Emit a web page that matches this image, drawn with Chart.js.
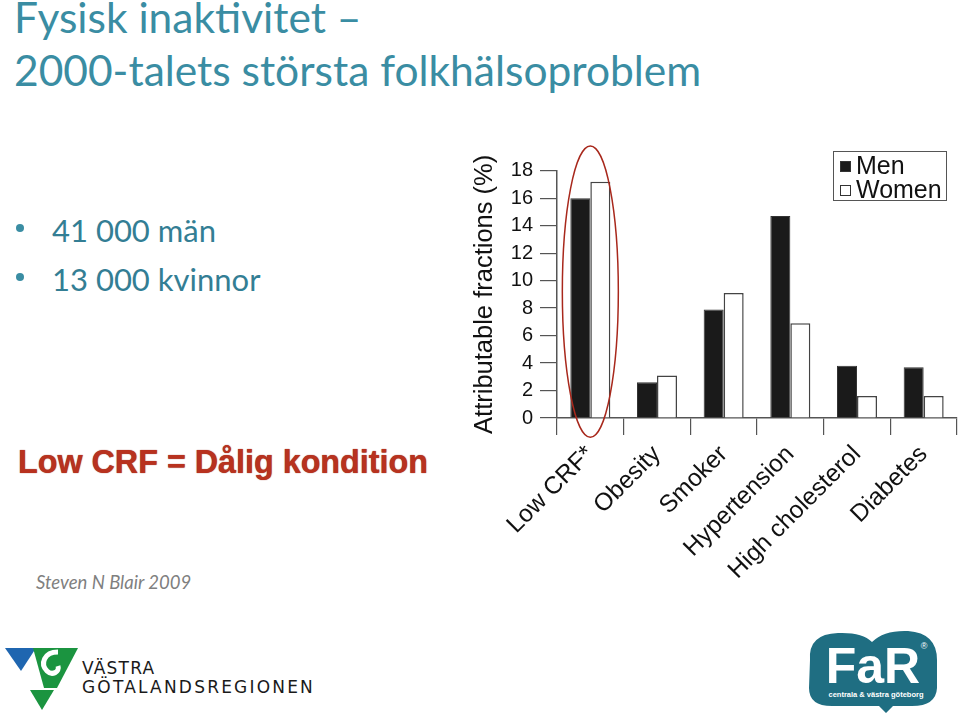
<!DOCTYPE html>
<html lang="sv">
<head>
<meta charset="utf-8">
<title>Fysisk inaktivitet</title>
<script src="https://cdn.jsdelivr.net/npm/chart.js@4.4.1/dist/chart.umd.min.js"></script>
<style>
  html, body { margin: 0; padding: 0; background: #fff; }
  body { width: 960px; height: 716px; position: relative; overflow: hidden; font-family: Lato, "Open Sans", sans-serif; }
  .abs { position: absolute; white-space: nowrap; line-height: 1; }
  .title { color: #3a8da3; font-size: 42.5px; left: 14px; }
  .bullet { color: #337e94; font-size: 31px; left: 52px; }
  .dot { position: absolute; width: 8px; height: 8px; border-radius: 50%; background: #3a8da3; left: 16px; }
  .crf { left: 18px; top: 446px; font-family: "Liberation Sans", Arial, sans-serif; font-weight: bold; font-size: 32.3px; color: #b8321f; text-shadow: 0 0 1px #8a2414; }
  .ref { left: 36px; top: 573px; font-style: italic; font-size: 18.5px; color: #7f7f7f; }
  #chartBox { position: absolute; left: 462px; top: 130px; width: 498px; height: 470px; }
  #legend { position: absolute; left: 833px; top: 151px; width: 112px; height: 48px; border: 1.5px solid #555; background: #fff;
            font-family: "Liberation Sans", Arial, sans-serif; font-size: 25px; color: #111; }
  #legend .item { position: absolute; left: 6px; height: 24px; line-height: 24px; }
  #legend .sw { display: inline-block; width: 9px; height: 9px; border: 1px solid #333; margin-right: 5px; vertical-align: 2px; }
  .vgr { font-family: "DejaVu Sans", sans-serif; color: #1a1a1a; font-size: 17px; left: 82px; }
</style>
</head>
<body>

<div class="abs title" style="top:-4px">Fysisk inaktivitet –</div>
<div class="abs title" style="top:49px">2000-talets största folkhälsoproblem</div>

<div class="dot" style="top:224px"></div>
<div class="abs bullet" style="top:215px">41 000 män</div>
<div class="dot" style="top:273px"></div>
<div class="abs bullet" style="top:264px">13 000 kvinnor</div>

<div class="abs crf">Low CRF = Dålig kondition</div>
<div class="abs ref">Steven N Blair 2009</div>

<div id="chartBox"><canvas id="chart"></canvas></div>
<div id="legend"></div>

<!-- logga Västra Götalandsregionen -->
<svg class="abs" style="left:0;top:640px" width="90" height="76" viewBox="0 640 90 76">
  <polygon points="5,648 36,648 21,671" fill="#1f66b0"/>
  <polygon points="33,648 78,648 57,688 44,688" fill="#1b9440"/>
  <path d="M58,652 C44,652 40,664 47,671 C52,676 60,672 58,666" fill="none" stroke="#fff" stroke-width="5"/>
  <polygon points="30,690 54,690 42,710" fill="#1b9440"/>
</svg>
<div class="abs vgr" style="top:660px;letter-spacing:1.2px">VÄSTRA</div>
<div class="abs vgr" style="top:679px;letter-spacing:2.2px">GÖTALANDSREGIONEN</div>

<!-- logga FaR -->
<svg class="abs" style="left:800px;top:620px" width="160" height="96" viewBox="800 620 160 96">
  <path d="M810,660 Q808,634 838,633 Q862,632 872,642 Q884,630 908,631 Q937,633 937,660 L937,688 Q936,706 912,706 L893,706 L886,713 L879,706 L832,706 Q809,706 809,688 Z" fill="#1f6e82"/>
  <text x="873" y="683" text-anchor="middle" font-family="Liberation Sans, Arial" font-weight="bold" font-size="50" fill="#fff">FaR</text>
  <text x="876" y="697" text-anchor="middle" font-family="Liberation Sans, Arial" font-weight="bold" font-size="7.5" fill="#fff">centrala &amp; västra göteborg</text>
  <text x="924" y="649" text-anchor="middle" font-family="Liberation Sans, Arial" font-size="9" fill="#fff">®</text>
</svg>

<script>
// data
const categories = ['Low CRF*', 'Obesity', 'Smoker', 'Hypertension', 'High cholesterol', 'Diabetes'];
const menValues = [16.0, 2.6, 7.9, 14.7, 3.8, 3.7];
const womenValues = [17.2, 3.1, 9.1, 6.9, 1.6, 1.6];
const seriesLabels = ['Men', 'Women'];
const yMin = 0, yMax = 18, yStep = 2;

const AXIS = '#555';
const FONT = '"Liberation Sans", Arial, sans-serif';
const BOX_H = 470, PAD_TOP = 40.7, AREA_H = 247.3;

/* röd ellips runt Low CRF-staplarna */
const ellipsePlugin = {
  id: 'crfEllipse',
  afterDatasetsDraw(chart) {
    const { ctx, scales: { x, y } } = chart;
    const cx = x.getPixelForValue(0);
    const top = y.getPixelForValue(19.8);
    const bottom = y.getPixelForValue(-1.4);
    const rx = (x.getPixelForValue(1) - cx) * 0.42;
    ctx.save();
    ctx.beginPath();
    ctx.ellipse(cx, (top + bottom) / 2, rx, (bottom - top) / 2, 0, 0, Math.PI * 2);
    ctx.strokeStyle = '#a8281c';
    ctx.lineWidth = 1.5;
    ctx.stroke();
    ctx.restore();
  }
};

const chart = new Chart(document.getElementById('chart'), {
  type: 'bar',
  data: {
    labels: categories,
    datasets: [
      { label: seriesLabels[0], data: menValues, backgroundColor: '#1a1a1a', borderColor: '#333', borderWidth: 1 },
      { label: seriesLabels[1], data: womenValues, backgroundColor: '#fff', borderColor: '#444', borderWidth: 1.5 },
    ]
  },
  plugins: [ellipsePlugin],
  options: {
    responsive: true,
    maintainAspectRatio: false,
    animation: false,
    layout: { padding: { top: PAD_TOP, right: 3, left: 0, bottom: 0 } },
    datasets: { bar: { barPercentage: 1.0, categoryPercentage: 0.6 } },
    plugins: {
      legend: { display: false },
      tooltip: { enabled: false },
    },
    scales: {
      x: {
        grid: { display: true, drawOnChartArea: false, drawTicks: true, tickLength: 17, color: AXIS, lineWidth: 1.2 },
        border: { display: true, color: AXIS, width: 1.5 },
        ticks: { color: '#111', font: { family: FONT, size: 24.5 }, autoSkip: false, minRotation: 45, maxRotation: 45, padding: 5 },
        afterFit: (s) => { s.height = BOX_H - PAD_TOP - AREA_H; },
      },
      y: {
        min: yMin, max: yMax,
        grid: { display: true, drawOnChartArea: false, drawTicks: true, tickLength: 17, color: AXIS, lineWidth: 1.2 },
        border: { display: true, color: AXIS, width: 1.5 },
        ticks: { stepSize: yStep, color: '#111', font: { family: FONT, size: 20 }, padding: 7 },
        title: { display: true, text: 'Attributable fractions (%)', color: '#111', font: { family: FONT, size: 25.5 }, padding: { top: 8, bottom: 0 } },
        afterFit: (s) => { s.width = 95; },
      }
    }
  }
});

// legend i HTML, byggd från dataseten
const legendEl = document.getElementById('legend');
chart.data.datasets.forEach((ds, i) => {
  const item = document.createElement('div');
  item.className = 'item';
  item.style.top = (i * 24 + 1) + 'px';
  item.innerHTML = `<span class="sw" style="background:${ds.backgroundColor}"></span>${ds.label}`;
  legendEl.appendChild(item);
});
</script>
</body>
</html>
